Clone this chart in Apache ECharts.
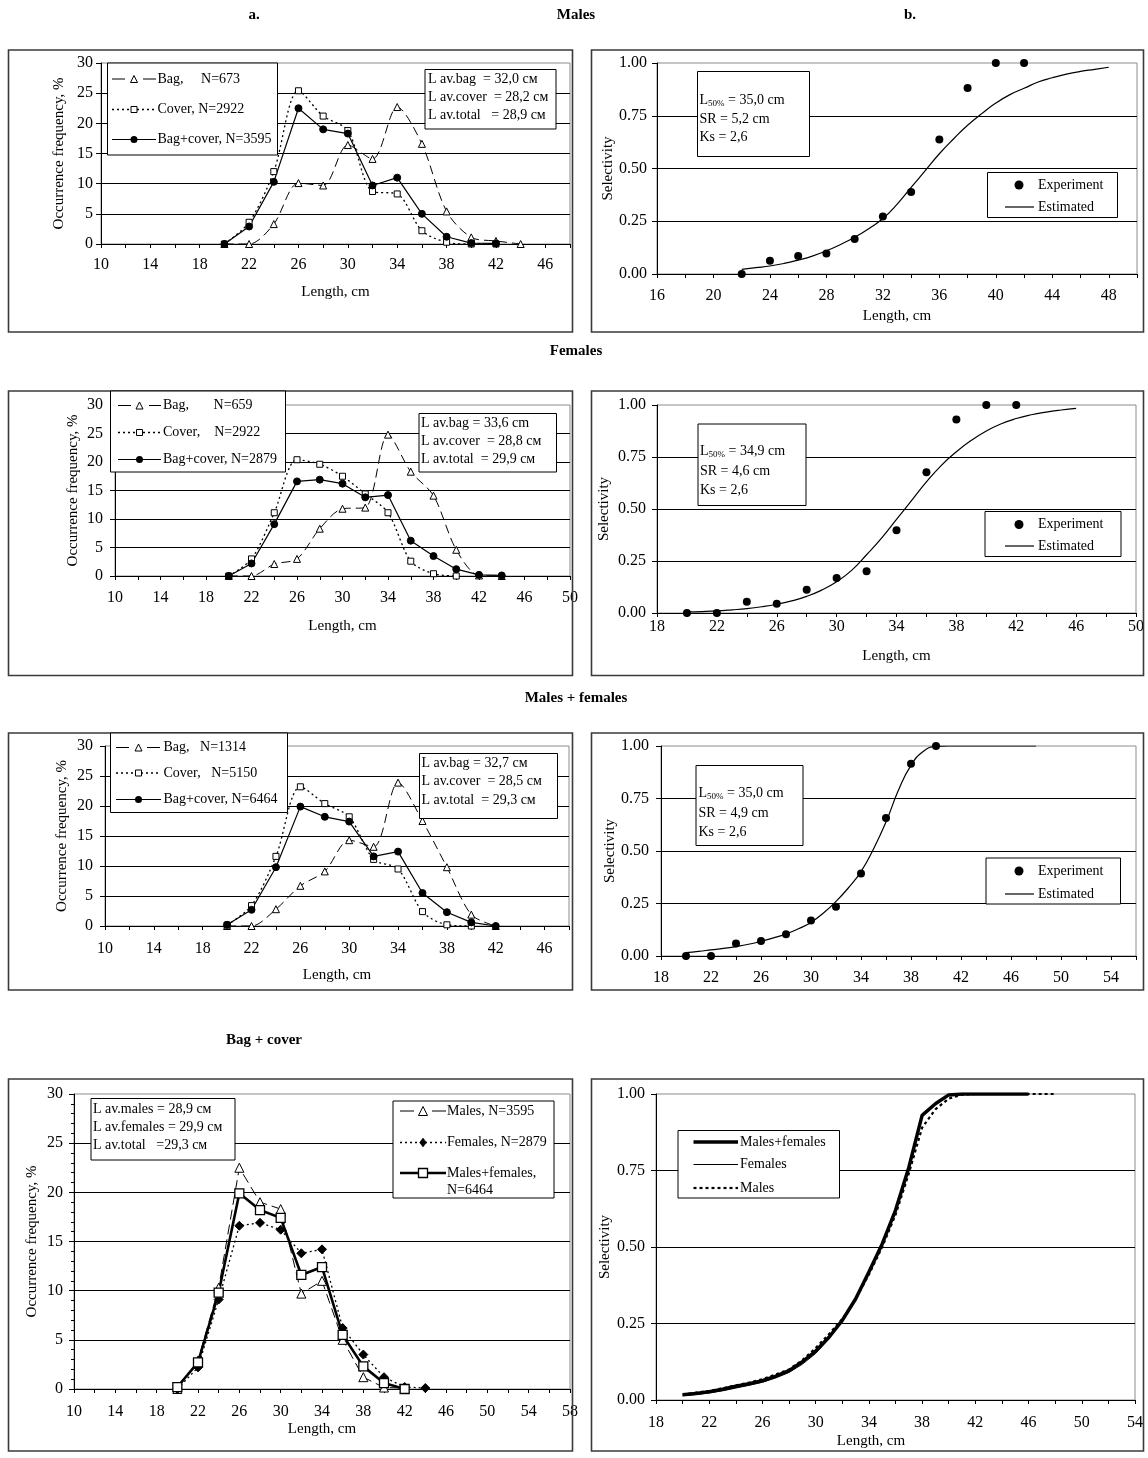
<!DOCTYPE html>
<html>
<head>
<meta charset="utf-8">
<title>Length frequency and selectivity</title>
<script src="https://cdn.jsdelivr.net/npm/echarts@6/dist/echarts.min.js"></script>
<style>
  html, body { margin: 0; padding: 0; background: #fff; }
  #chart { width: 1148px; height: 1458px; }
</style>
</head>
<body>
<div id="chart"></div>
<script>
// ---------------------------------------------------------------
// Data
// ---------------------------------------------------------------

// Length classes, cm (frequency distributions)
const lengthClasses = [20, 22, 24, 26, 28, 30, 32, 34, 36, 38, 40, 42, 44];

// Occurrence frequency, % — males
const malesBag   = [0, 0, 3.3, 10.1, 9.7, 16.4, 14.1, 22.7, 16.6, 5.4, 1.1, 0.5, 0];
const malesCover = [0, 3.6, 12.0, 25.4, 21.2, 18.8, 8.7, 8.3, 2.2, 0.3, 0, 0, null];
const malesTotal = [0, 2.9, 10.3, 22.5, 19.0, 18.3, 9.7, 11.0, 5.0, 1.2, 0.15, 0.1, null];

// Occurrence frequency, % — females
const femalesBag   = [0, 0, 2.1, 3.0, 8.3, 11.8, 12.0, 24.8, 18.3, 14.1, 4.6, 0.1, 0];
const femalesCover = [0, 3.0, 11.1, 20.4, 19.6, 17.5, 14.4, 11.1, 2.6, 0.4, 0, null, null];
const femalesTotal = [0, 2.2, 9.1, 16.6, 16.9, 16.2, 13.8, 14.2, 6.2, 3.5, 1.2, 0.2, 0.1];

// Occurrence frequency, % — males + females
const bothBag   = [0, 0, 2.8, 6.7, 9.1, 14.3, 13.2, 23.9, 17.5, 9.8, 1.9, 0, null];
const bothCover = [0.15, 3.4, 11.6, 23.2, 20.4, 18.2, 11.1, 9.5, 2.4, 0.2, 0, null, null];
const bothTotal = [0.2, 2.7, 9.8, 19.9, 18.2, 17.4, 11.6, 12.4, 5.5, 2.3, 0.6, 0, null];

// Selectivity — males
const expLenMales = [22, 24, 26, 28, 30, 32, 34, 36, 38, 40, 42];
const expSelMales = [0, 0.063, 0.085, 0.097, 0.166, 0.272, 0.389, 0.638, 0.881, 1, 1];
const fitLenMales = [22, 23, 24, 25, 26, 27, 28, 29, 30, 31, 32, 33, 34, 35, 36, 37, 38, 39, 40, 41, 42, 43, 44, 45, 46, 47, 48];
const fitSelMales = [0.022, 0.03, 0.038, 0.05, 0.066, 0.085, 0.11, 0.14, 0.174, 0.215, 0.263, 0.33, 0.41, 0.49, 0.57, 0.64, 0.705, 0.76, 0.81, 0.85, 0.88, 0.91, 0.93, 0.947, 0.96, 0.97, 0.98];

// Selectivity — females
const expLenFemales = [20, 22, 24, 26, 28, 30, 32, 34, 36, 38, 40, 42];
const expSelFemales = [0, 0, 0.054, 0.045, 0.112, 0.168, 0.201, 0.398, 0.677, 0.93, 1, 1];
const fitLenFemales = [20, 21, 22, 23, 24, 25, 26, 27, 28, 29, 30, 31, 32, 33, 34, 35, 36, 37, 38, 39, 40, 41, 42, 43, 44, 45, 46];
const fitSelFemales = [0.005, 0.007, 0.01, 0.015, 0.021, 0.03, 0.042, 0.058, 0.08, 0.11, 0.15, 0.205, 0.28, 0.36, 0.45, 0.54, 0.63, 0.71, 0.775, 0.83, 0.875, 0.91, 0.935, 0.953, 0.966, 0.976, 0.984];

// Selectivity — males + females
const expLenBoth = [20, 22, 24, 26, 28, 30, 32, 34, 36, 38, 40];
const expSelBoth = [0, 0, 0.059, 0.072, 0.103, 0.169, 0.234, 0.393, 0.657, 0.916, 1];
const fitLenBoth = [20, 21, 22, 23, 24, 25, 26, 27, 28, 29, 30, 31, 32, 33, 34, 35, 36, 37, 38, 39, 40, 41, 42, 43, 44, 45, 46, 47, 48];
const fitSelBoth = [0.016, 0.022, 0.029, 0.036, 0.045, 0.056, 0.07, 0.086, 0.105, 0.13, 0.16, 0.205, 0.26, 0.325, 0.402, 0.51, 0.638, 0.79, 0.908, 0.975, 0.998, 1, 1, 1, 1, 1, 1, 1, 1];

// Estimated selectivity curves compared (bag + cover)
const cmpLenBoth = [20, 21, 22, 23, 24, 25, 26, 27, 28, 29, 30, 31, 32, 33, 34, 35, 36, 37, 38, 39, 40, 41, 42, 43, 44, 45, 46];
const cmpSelBoth = [0.017, 0.021, 0.027, 0.035, 0.045, 0.053, 0.063, 0.078, 0.096, 0.125, 0.16, 0.205, 0.26, 0.33, 0.418, 0.51, 0.62, 0.76, 0.93, 0.968, 0.997, 1, 1, 1, 1, 1, 1];
const cmpLenFemales = [20, 21, 22, 23, 24, 25, 26, 27, 28, 29, 30, 31, 32, 33, 34, 35, 36, 37, 38, 39, 40, 41, 42, 43, 44, 45, 46];
const cmpSelFemales = [0.014, 0.018, 0.023, 0.03, 0.039, 0.048, 0.058, 0.072, 0.09, 0.117, 0.152, 0.2, 0.258, 0.33, 0.42, 0.515, 0.625, 0.765, 0.925, 0.97, 0.995, 1, 1, 1, 1, 1, 1];
const cmpLenMales = [20, 21, 22, 23, 24, 25, 26, 27, 28, 29, 30, 31, 32, 33, 34, 35, 36, 37, 38, 39, 40, 41, 42, 43, 44, 45, 46, 47, 48];
const cmpSelMales = [0.018, 0.024, 0.03, 0.038, 0.048, 0.057, 0.068, 0.083, 0.1, 0.13, 0.17, 0.215, 0.265, 0.33, 0.41, 0.5, 0.605, 0.74, 0.89, 0.95, 0.985, 0.998, 1, 1, 1, 1, 1, 1, 1];

// Legend and annotation texts
const legendMales   = ['Bag,     N=673', 'Cover, N=2922', 'Bag+cover, N=3595'];
const legendFemales = ['Bag,       N=659', 'Cover,    N=2922', 'Bag+cover, N=2879'];
const legendBoth    = ['Bag,   N=1314', 'Cover,   N=5150', 'Bag+cover, N=6464'];
const legendSexes   = ['Males, N=3595', 'Females, N=2879', 'Males+females,', 'N=6464'];
const legendCurves  = ['Males+females', 'Females', 'Males'];
const noteMales   = ['L av.bag  = 32,0 см', 'L av.cover  = 28,2 см', 'L av.total   = 28,9 см'];
const noteFemales = ['L av.bag = 33,6 cm', 'L av.cover  = 28,8 см', 'L av.total  = 29,9 см'];
const noteBoth    = ['L av.bag = 32,7 см', 'L av.cover  = 28,5 см', 'L av.total  = 29,3 см'];
const noteSexes   = ['L av.males = 28,9 см', 'L av.females = 29,9 см', 'L av.total   =29,3 см'];
const selNoteMales   = ['35,0', '5,2', '2,6'];
const selNoteFemales = ['34,9', '4,6', '2,6'];
const selNoteBoth    = ['35,0', '4,9', '2,6'];

// ---------------------------------------------------------------
// Layout and styles
// ---------------------------------------------------------------
const FONT = '"Liberation Serif", "Times New Roman", Times, serif';
const BLACK = '#000';

// one entry per plotting area: [left, top, width, height]
const panels = [
  { g: [101, 63, 469, 181],  x: [10, 48], sel: false, ym: 8,  xm: 13, xng: 41,  yng: 34.5 },
  { g: [657, 63, 480, 211],  x: [16, 50], sel: true,  ym: 10, xm: 14, xng: 35,  yng: 36 },
  { g: [115, 405, 455, 171], x: [10, 50], sel: false, ym: 12, xm: 14, xng: 43,  yng: 34 },
  { g: [657, 405, 479, 208], x: [18, 50], sel: true,  ym: 11, xm: 6,  xng: 36,  yng: 45 },
  { g: [105, 746, 464, 180], x: [10, 48], sel: false, ym: 12, xm: 15, xng: 42,  yng: 35 },
  { g: [661, 746, 475, 210], x: [18, 56], sel: true,  ym: 12, xm: 14, xng: null, yng: 43.5 },
  { g: [74, 1094, 496, 295], x: [10, 58], sel: false, ym: 11, xm: 15, xng: 33,  yng: 34.6, minor: true },
  { g: [656, 1094, 479, 306], x: [18, 54], sel: true, ym: 11, xm: 15, xng: null, yng: 43.8 }
];

const grids = panels.map(p => ({
  left: p.g[0], top: p.g[1], width: p.g[2], height: p.g[3],
  show: true, borderColor: '#8c8c8c', borderWidth: 1,
  backgroundColor: 'transparent', containLabel: false, outerBoundsMode: 'none'
}));

const xAxes = panels.map((p, i) => ({
  type: 'value', gridIndex: i, min: p.x[0], max: p.x[1], interval: 2,
  axisLine: { show: true, onZero: false, lineStyle: { color: BLACK, width: 1 } },
  axisTick: { show: true, length: 4, lineStyle: { color: BLACK } },
  axisLabel: {
    show: true, margin: p.xm, color: BLACK, fontFamily: FONT, fontSize: 16,
    showMinLabel: true, showMaxLabel: true,
    formatter: v => ((Math.round(v) - p.x[0]) % 4 === 0 ? String(Math.round(v)) : '')
  },
  splitLine: { show: false },
  name: p.xng === null ? '' : 'Length, cm',
  nameLocation: 'middle', nameGap: p.xng === null ? 0 : p.xng,
  nameTextStyle: { color: BLACK, fontFamily: FONT, fontSize: 15 }
}));

const yAxes = panels.map((p, i) => ({
  type: 'value', gridIndex: i, min: 0, max: p.sel ? 1 : 30, interval: p.sel ? 0.25 : 5,
  axisLine: { show: true, onZero: false, lineStyle: { color: BLACK, width: 1 } },
  axisTick: { show: true, length: 5, lineStyle: { color: BLACK } },
  minorTick: { show: !!p.minor, splitNumber: 5, length: 3, lineStyle: { color: BLACK } },
  axisLabel: {
    margin: p.ym, color: BLACK, fontFamily: FONT, fontSize: 16,
    formatter: p.sel ? (v => v.toFixed(2)) : (v => String(v))
  },
  splitLine: { show: true, showMinLine: false, showMaxLine: false, lineStyle: { color: BLACK, width: 1 } },
  name: p.sel ? 'Selectivity' : 'Occurrence frequency, %',
  nameLocation: 'middle', nameGap: p.yng,
  nameTextStyle: { color: BLACK, fontFamily: FONT, fontSize: 15 }
}));

// line styles of the distributions (key: dash pattern used in the legend sample)
const BAG     = { symbol: 'triangle', size: 7, fill: '#fff', width: 1,   dash: [9, 5], key: [13, 18], smooth: 0.3 };
const COVER   = { symbol: 'rect',     size: 6, fill: '#fff', width: 1.3, dash: [2, 3], smooth: 0.3 };
const TOTAL   = { symbol: 'circle',   size: 7, fill: BLACK,  width: 1.2, dash: 'solid' };
const MALES   = { symbol: 'triangle', size: 9, fill: '#fff', width: 1,   dash: [10, 5], key: [14, 18] };
const FEMALES = { symbol: 'diamond',  size: 9, fill: BLACK,  width: 1.3, dash: [2, 3] };
const BOTH    = { symbol: 'rect',     size: 9, fill: '#fff', width: 2.6, dash: 'solid', bw: 1.3 };

const series = [];

function freqLine(i, name, values, st) {
  series.push({
    type: 'line', name, xAxisIndex: i, yAxisIndex: i,
    data: lengthClasses.map((x, k) => [x, values[k]]).filter(d => d[1] !== null),
    symbol: st.symbol, symbolSize: st.size, showSymbol: true,
    smooth: st.smooth || false,
    lineStyle: { color: BLACK, width: st.width, type: st.dash },
    itemStyle: { color: st.fill, borderColor: BLACK, borderWidth: st.bw || 1, opacity: 1 },
    emphasis: { disabled: true }
  });
}

function fitLine(i, name, xs, ys, width, dash, smooth) {
  series.push({
    type: 'line', name, xAxisIndex: i, yAxisIndex: i,
    data: xs.map((x, k) => [x, ys[k]]),
    symbol: 'none', showSymbol: false, smooth: smooth,
    lineStyle: { color: BLACK, width, type: dash },
    emphasis: { disabled: true }
  });
}

function expPoints(i, xs, ys) {
  series.push({
    type: 'scatter', name: 'Experiment', xAxisIndex: i, yAxisIndex: i,
    data: xs.map((x, k) => [x, ys[k]]),
    symbol: 'circle', symbolSize: 8, itemStyle: { color: BLACK, opacity: 1 }, z: 4,
    emphasis: { disabled: true }
  });
}

// a. distributions in bag and cover
freqLine(0, legendMales[0], malesBag, BAG);
freqLine(0, legendMales[1], malesCover, COVER);
freqLine(0, legendMales[2], malesTotal, TOTAL);
freqLine(2, legendFemales[0], femalesBag, BAG);
freqLine(2, legendFemales[1], femalesCover, COVER);
freqLine(2, legendFemales[2], femalesTotal, TOTAL);
freqLine(4, legendBoth[0], bothBag, BAG);
freqLine(4, legendBoth[1], bothCover, COVER);
freqLine(4, legendBoth[2], bothTotal, TOTAL);
freqLine(6, legendSexes[0], malesTotal, MALES);
freqLine(6, legendSexes[1], femalesTotal, FEMALES);
freqLine(6, legendSexes[2], bothTotal, BOTH);

// b. selectivity
fitLine(1, 'Estimated', fitLenMales, fitSelMales, 1.2, 'solid', true);
expPoints(1, expLenMales, expSelMales);
fitLine(3, 'Estimated', fitLenFemales, fitSelFemales, 1.2, 'solid', true);
expPoints(3, expLenFemales, expSelFemales);
fitLine(5, 'Estimated', fitLenBoth, fitSelBoth, 1.2, 'solid', true);
expPoints(5, expLenBoth, expSelBoth);
fitLine(7, legendCurves[0], cmpLenBoth, cmpSelBoth, 3.5, 'solid', false);
fitLine(7, legendCurves[1], cmpLenFemales, cmpSelFemales, 1, 'solid', false);
fitLine(7, legendCurves[2], cmpLenMales, cmpSelMales, 2.2, [3, 3], false);

// ---------------------------------------------------------------
// Frames, headings, legends and notes
// ---------------------------------------------------------------
const gr = [];
const TXT = '14px ' + FONT;

function frame(x1, y1, x2, y2) {
  gr.push({ type: 'rect', silent: true, z: 50,
    shape: { x: x1, y: y1, width: x2 - x1, height: y2 - y1 },
    style: { fill: 'none', stroke: '#3a3a3a', lineWidth: 1.6 } });
}
function box(x1, y1, x2, y2) {
  gr.push({ type: 'rect', silent: true, z: 100,
    shape: { x: x1, y: y1, width: x2 - x1, height: y2 - y1 },
    style: { fill: '#fff', stroke: BLACK, lineWidth: 1 } });
}
function text(x, y, str, font, align) {
  gr.push({ type: 'text', silent: true, z: 102, x, y,
    style: { text: str, font: font || TXT, fill: BLACK, align: align || 'left', verticalAlign: 'middle' } });
}
function sample(x1, x2, y, width, dash) {
  gr.push({ type: 'line', silent: true, z: 101,
    shape: { x1, y1: y, x2, y2: y },
    style: { stroke: BLACK, lineWidth: width, lineDash: dash === 'solid' ? null : dash } });
}
function marker(type, cx, cy, size, fill, bw) {
  const h = size / 2;
  const style = { fill, stroke: BLACK, lineWidth: bw || 1 };
  if (type === 'circle') {
    gr.push({ type: 'circle', silent: true, z: 102, shape: { cx, cy, r: h }, style: { fill } });
  } else if (type === 'rect') {
    gr.push({ type: 'rect', silent: true, z: 102, shape: { x: cx - h, y: cy - h, width: size, height: size }, style });
  } else if (type === 'triangle') {
    gr.push({ type: 'polygon', silent: true, z: 102, shape: { points: [[cx, cy - h], [cx + h, cy + h], [cx - h, cy + h]] }, style });
  } else if (type === 'diamond') {
    gr.push({ type: 'polygon', silent: true, z: 102, shape: { points: [[cx, cy - h], [cx + h * 0.75, cy], [cx, cy + h], [cx - h * 0.75, cy]] }, style: { fill, stroke: BLACK, lineWidth: 0.5 } });
  }
}
function legendRow(x1, x2, y, st, label, tx) {
  sample(x1, x2, y, st.width, st.key || st.dash);
  marker(st.symbol, (x1 + x2) / 2, y, st.size, st.fill, st.bw);
  text(tx, y, label);
}
function note(x1, y1, x2, y2, tx, ys, lines) {
  box(x1, y1, x2, y2);
  lines.forEach((l, k) => text(tx, ys[k], l));
}
function selNote(x1, y1, x2, y2, tx, ys, vals) {
  box(x1, y1, x2, y2);
  gr.push({ type: 'text', silent: true, z: 102, x: tx, y: ys[0],
    style: {
      text: '{m|L}{s|50%}{m| = ' + vals[0] + ' cm}',
      verticalAlign: 'middle', align: 'left',
      rich: {
        m: { font: TXT, fill: BLACK, lineHeight: 18, verticalAlign: 'middle' },
        s: { font: '9px ' + FONT, fill: BLACK, lineHeight: 18, verticalAlign: 'bottom', padding: [0, 0, 1, 0] }
      }
    } });
  text(tx, ys[1], 'SR = ' + vals[1] + ' cm');
  text(tx, ys[2], 'Ks = ' + vals[2]);
}
function selLegend(x1, y1, x2, y2, yE, yF) {
  box(x1, y1, x2, y2);
  marker('circle', 1019, yE, 9, BLACK);
  text(1038, yE, 'Experiment');
  sample(1005, 1034, yF, 1.2, 'solid');
  text(1038, yF, 'Estimated');
}

// panel frames
[[50, 332], [391, 675.5], [733, 990], [1079, 1451]].forEach(r => {
  frame(8.5, r[0], 572.5, r[1]);
  frame(591.5, r[0], 1143.5, r[1]);
});

// headings
const HEAD = 'bold 15px ' + FONT;
text(254, 15, 'a.', HEAD, 'center');
text(576, 15, 'Males', HEAD, 'center');
text(910, 15, 'b.', HEAD, 'center');
text(576, 351, 'Females', HEAD, 'center');
text(576, 698, 'Males + females', HEAD, 'center');
text(264, 1040, 'Bag + cover', HEAD, 'center');

// a. males
box(107.5, 63, 277.5, 155);
legendRow(112, 156, 79, BAG, legendMales[0], 157.5);
legendRow(112, 156, 109.5, COVER, legendMales[1], 157.5);
legendRow(112, 156, 139.5, TOTAL, legendMales[2], 157.5);
note(425, 69.5, 556, 129, 428, [79, 97, 115.5], noteMales);

// a. females
box(110.5, 391, 285.5, 472);
legendRow(118, 161, 405.5, BAG, legendFemales[0], 163);
legendRow(118, 161, 432.5, COVER, legendFemales[1], 163);
legendRow(118, 161, 459.5, TOTAL, legendFemales[2], 163);
note(419, 413.5, 556.5, 472, 421, [423, 441, 459], noteFemales);

// a. males + females
box(110.5, 733, 287.5, 812.5);
legendRow(116, 161, 747.5, BAG, legendBoth[0], 163.5);
legendRow(116, 161, 773, COVER, legendBoth[1], 163.5);
legendRow(116, 161, 799.5, TOTAL, legendBoth[2], 163.5);
note(419.5, 753.5, 557.5, 818.5, 421.5, [763.5, 781.5, 800], noteBoth);

// a. bag + cover
box(393, 1101, 554, 1198);
legendRow(400, 446, 1111, MALES, legendSexes[0], 447);
legendRow(400, 446, 1142.5, FEMALES, legendSexes[1], 447);
legendRow(400, 446, 1173, BOTH, legendSexes[2], 447);
text(447, 1190, legendSexes[3]);
note(91, 1098.5, 235, 1160, 93, [1109, 1127, 1145], noteSexes);

// b. selectivity notes and legends
selNote(697.5, 71.5, 809.5, 156.5, 699.5, [100, 119, 137], selNoteMales);
selLegend(987.5, 172.5, 1117.5, 217.5, 185, 207);
selNote(698, 424, 806, 505.5, 700, [451.5, 471.5, 490], selNoteFemales);
selLegend(985, 511.5, 1121, 556.5, 524.5, 546);
selNote(696, 765.5, 803, 845.5, 698.5, [793.5, 813.5, 832], selNoteBoth);
selLegend(986, 858, 1120.5, 904, 871, 894);

// b. comparison of the estimated curves
box(678, 1130.5, 839.5, 1198);
sample(693.5, 738, 1142, 3.5, 'solid');
text(740, 1142, legendCurves[0]);
sample(693.5, 738, 1164.5, 1, 'solid');
text(740, 1164.5, legendCurves[1]);
sample(693.5, 738, 1188, 2.2, [3, 3]);
text(740, 1188, legendCurves[2]);
text(871, 1441, 'Length, cm', '15px ' + FONT, 'center');

// ---------------------------------------------------------------
const chart = echarts.init(document.getElementById('chart'), null, { renderer: 'canvas' });
chart.setOption({
  backgroundColor: '#fff',
  animation: false,
  textStyle: { fontFamily: FONT, color: BLACK },
  grid: grids,
  xAxis: xAxes,
  yAxis: yAxes,
  series,
  graphic: { elements: gr }
});
</script>
</body>
</html>
